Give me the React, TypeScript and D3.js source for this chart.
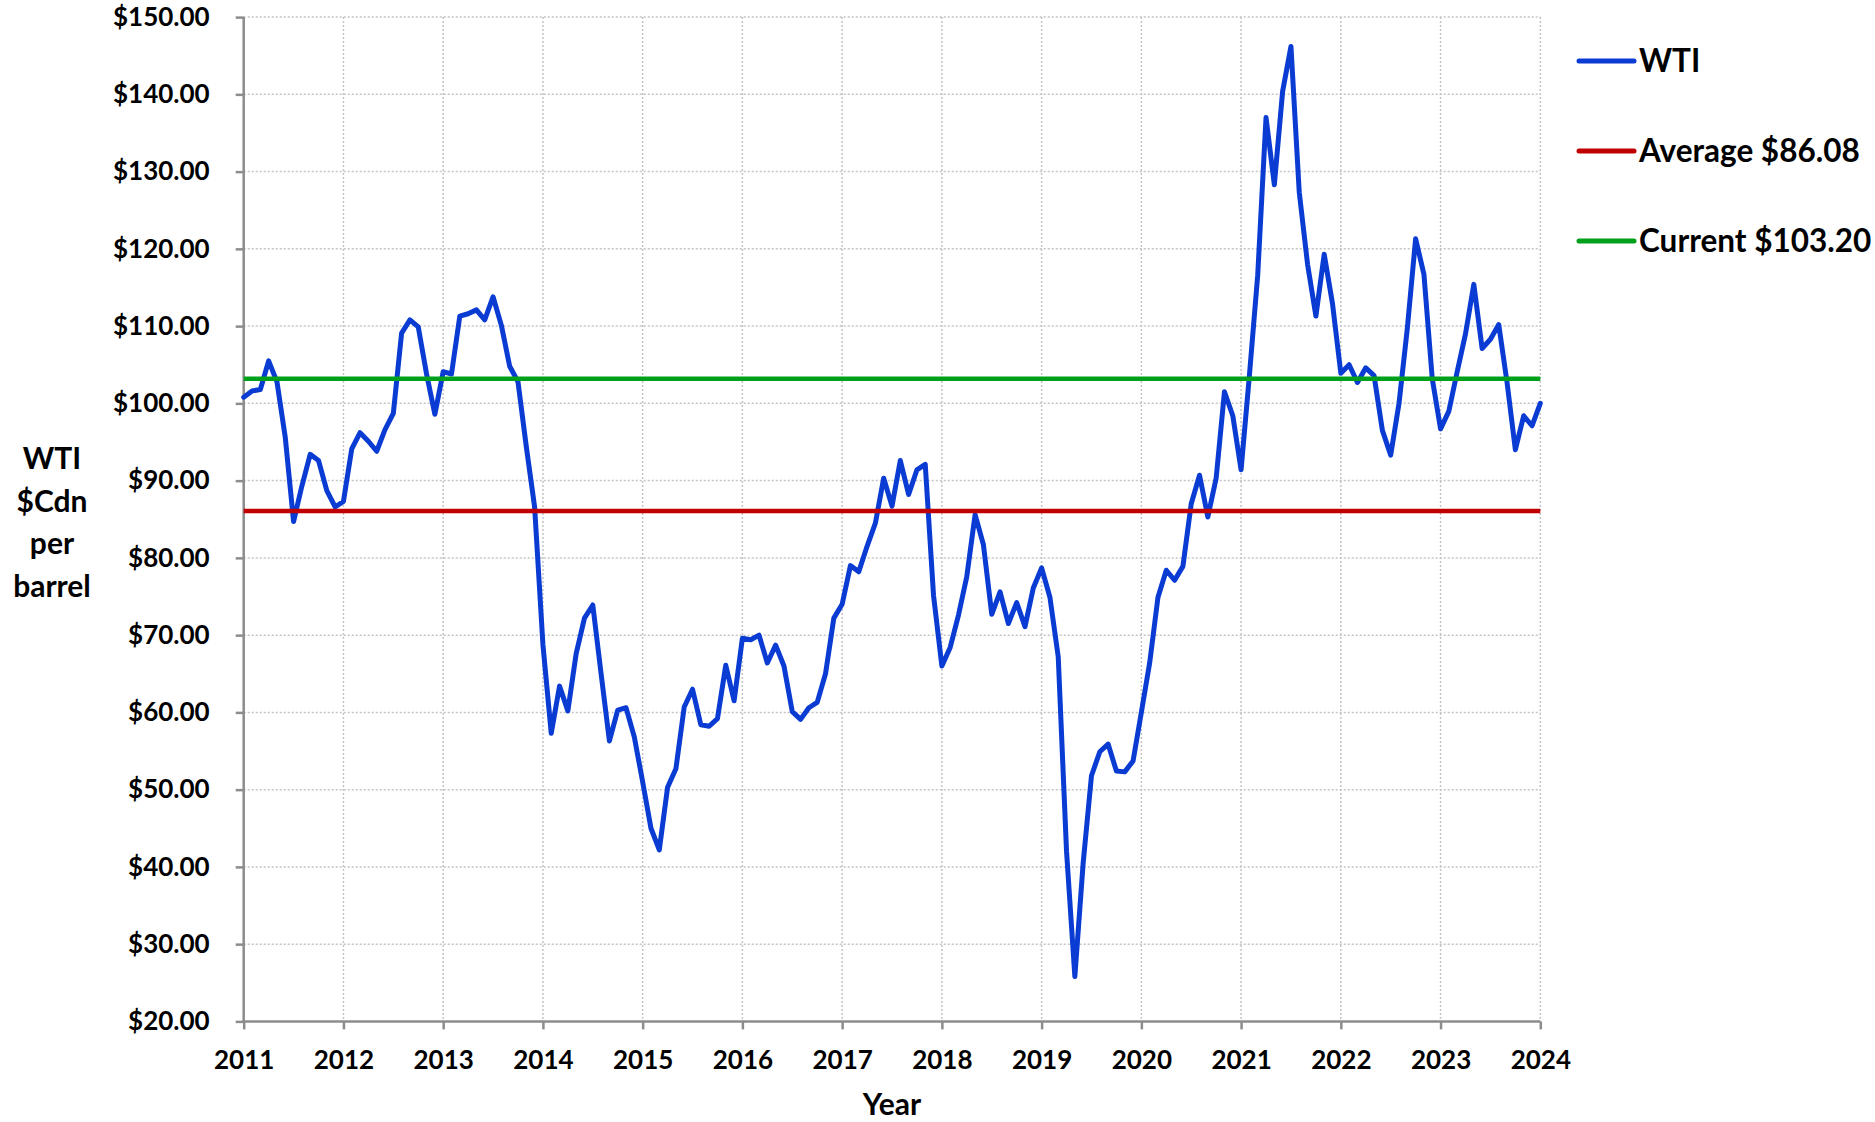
import * as d3 from "d3";
import React, {useEffect, useRef} from "react";

// monthly WTI price, $Cdn per barrel, Jan 2011 .. Jan 2024
const wti = [
    100.8, 101.6, 101.8, 105.5, 102.8, 95.6, 84.7, 89.3, 93.4, 92.6, 88.7, 86.6,
    87.3, 94.1, 96.2, 95.1, 93.8, 96.6, 98.7, 109.1, 110.8, 109.9, 103.8, 98.6,
    104.1, 103.8, 111.3, 111.6, 112.1, 110.8, 113.8, 110.1, 104.8, 102.8, 94.4, 86.6,
    68.8, 57.3, 63.4, 60.2, 67.6, 72.2, 73.9, 65.0, 56.3, 60.3, 60.6, 56.8,
    51.0, 45.0, 42.2, 50.3, 52.7, 60.7, 63.0, 58.4, 58.2, 59.2, 66.1, 61.5,
    69.6, 69.4, 70.0, 66.4, 68.7, 66.0, 60.1, 59.1, 60.6, 61.3, 65.0, 72.2,
    74.0, 79.0, 78.2, 81.5, 84.5, 90.3, 86.7, 92.6, 88.2, 91.4, 92.1, 75.1,
    66.0, 68.4, 72.6, 77.6, 85.6, 81.7, 72.7, 75.6, 71.5, 74.2, 71.1, 76.1,
    78.7, 74.9, 67.2, 42.0, 25.8, 40.5, 51.8, 54.9, 55.9, 52.4, 52.3, 53.7,
    60.0, 66.4, 74.9, 78.4, 77.1, 78.9, 87.0, 90.7, 85.3, 90.3, 101.5, 98.4,
    91.4, 103.6, 116.6, 137.0, 128.3, 140.4, 146.2, 127.3, 118.0, 111.3, 119.3, 112.9,
    103.9, 105.0, 102.7, 104.6, 103.6, 96.5, 93.3, 100.0, 109.7, 121.3, 116.7, 103.2,
    96.7, 99.0, 104.1, 109.0, 115.4, 107.1, 108.3, 110.2, 102.7, 94.0, 98.4, 97.1,
    100.0
]

const average = 86.08
const current = 103.20

const years = d3.range(2011, 2025)
const yTicks = d3.range(20, 151, 10)
const yTitle = ["WTI", "$Cdn", "per", "barrel"]
const xTitle = "Year"
const legendLabels = ["WTI", `Average $${average.toFixed(2)}`, `Current $${current.toFixed(2)}`]

const W = 1875
const H = 1122
const font = "Lato, 'Open Sans', sans-serif"
const blue = "#0a3bd3"
const red = "#c00000"
const green = "#00a01c"

const App = () => {
    const ref = useRef(null)

    useEffect(() => {
        const svg = d3.select(ref.current)
        svg.selectAll("*").remove()

        const x = d3.scaleLinear().domain([0, wti.length - 1]).range([243.7, 1540.3])
        const y = d3.scaleLinear().domain([20, 150]).range([1021.4, 17.1])

        // grid
        const grid = svg.append("g")
            .attr("stroke", "#c4c4c4")
            .attr("stroke-width", 1.5)
            .attr("stroke-dasharray", "2,2")
        grid.selectAll("line.h")
            .data(yTicks.slice(1))
            .join("line")
            .attr("class", "h")
            .attr("x1", x(0)).attr("x2", x(wti.length - 1))
            .attr("y1", d => y(d)).attr("y2", d => y(d))
        grid.selectAll("line.v")
            .data(years.slice(1))
            .join("line")
            .attr("class", "v")
            .attr("x1", d => x((d - 2011) * 12)).attr("x2", d => x((d - 2011) * 12))
            .attr("y1", y(150)).attr("y2", y(20))

        // axes
        const yAxis = svg.append("g")
            .attr("transform", `translate(${x(0)},0)`)
            .call(d3.axisLeft(y).tickValues(yTicks).tickFormat(d3.format("$.2f")).tickSize(8).tickPadding(26))
        const xAxis = svg.append("g")
            .attr("transform", `translate(0,${y(20)})`)
            .call(d3.axisBottom(x).tickValues(years.map(d => (d - 2011) * 12))
                .tickFormat((d, i) => String(years[i])).tickSize(8).tickPadding(21))
        for (const ax of [yAxis, xAxis]) {
            ax.selectAll("path, line").attr("stroke", "#8c8c8c").attr("stroke-width", 2.5)
            ax.selectAll("path").attr("d", null)
            ax.selectAll("text")
                .attr("fill", "#000")
                .style("font-family", font)
                .style("font-weight", "bold")
                .style("font-size", "26px")
        }
        svg.append("line")
            .attr("x1", x(0)).attr("x2", x(0))
            .attr("y1", y(150)).attr("y2", y(20))
            .attr("stroke", "#8c8c8c").attr("stroke-width", 2.5)
        svg.append("line")
            .attr("x1", x(0) - 1.25).attr("x2", x(wti.length - 1))
            .attr("y1", y(20)).attr("y2", y(20))
            .attr("stroke", "#8c8c8c").attr("stroke-width", 2.5)

        // WTI series
        const line = d3.line().x((d, i) => x(i)).y(d => y(d))
        svg.append("path")
            .datum(wti)
            .attr("d", line)
            .attr("fill", "none")
            .attr("stroke", blue)
            .attr("stroke-width", 5)
            .attr("stroke-linejoin", "round")
            .attr("stroke-linecap", "round")

        // average and current
        svg.selectAll("line.ref")
            .data([{v: average, c: red}, {v: current, c: green}])
            .join("line")
            .attr("class", "ref")
            .attr("x1", x(0)).attr("x2", x(wti.length - 1))
            .attr("y1", d => y(d.v)).attr("y2", d => y(d.v))
            .attr("stroke", d => d.c)
            .attr("stroke-width", 4.5)

        // titles
        const txt = svg.append("g")
            .attr("font-family", font)
            .attr("font-weight", "bold")
            .attr("font-size", 30)
            .attr("text-anchor", "middle")
        txt.selectAll("text.yt")
            .data(yTitle)
            .join("text")
            .attr("class", "yt")
            .attr("x", 52)
            .attr("y", (d, i) => 469 + i * 42.5)
            .text(d => d)
        txt.append("text")
            .attr("x", (x(0) + x(wti.length - 1)) / 2)
            .attr("y", 1115)
            .text(xTitle)

        // legend
        const colors = [blue, red, green]
        const lg = svg.append("g")
            .selectAll("g")
            .data(legendLabels)
            .join("g")
            .attr("transform", (d, i) => `translate(1579,${61 + i * 90})`)
        lg.append("line")
            .attr("x1", 0).attr("x2", 55)
            .attr("stroke", (d, i) => colors[i])
            .attr("stroke-width", 5)
            .attr("stroke-linecap", "round")
        lg.append("text")
            .attr("x", 60)
            .attr("y", 11)
            .attr("font-family", font)
            .attr("font-weight", "bold")
            .attr("font-size", 31.5)
            .text(d => d)
    }, [])

    return (
        <svg ref={ref} width={W} height={H}
             style={{position: "absolute", left: 0, top: 0, background: "#fff"}}/>
    )
}

export default App;
